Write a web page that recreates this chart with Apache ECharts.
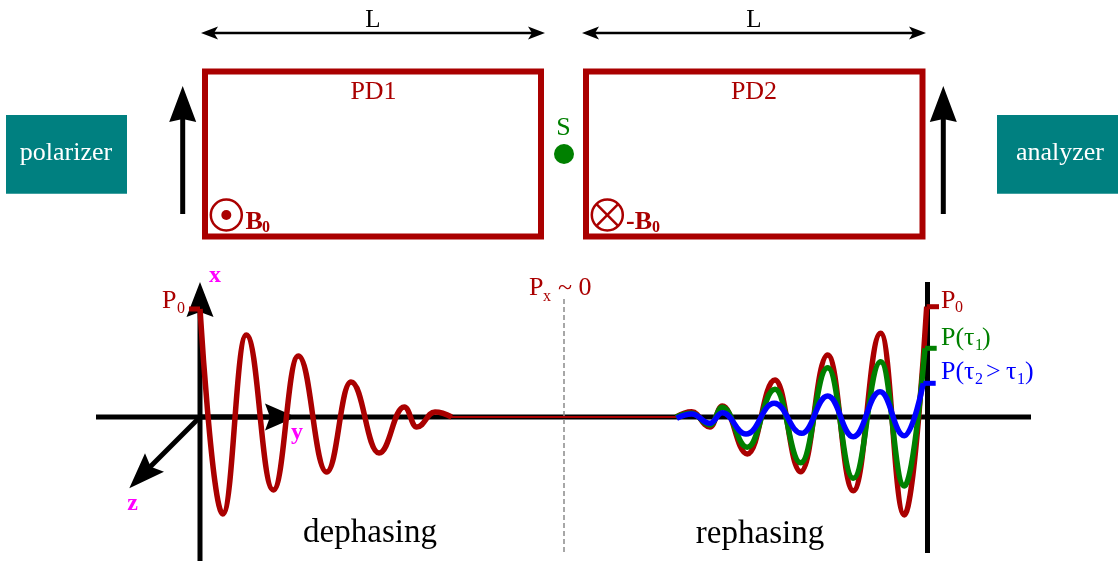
<!DOCTYPE html>
<html><head><meta charset="utf-8">
<style>html,body{margin:0;padding:0;background:#fff}#c{width:1119px;height:563px}</style>
<script src="https://cdn.jsdelivr.net/npm/echarts@6/dist/echarts.min.js"></script>
</head><body><div id="c"></div>
<script>
// Curve turning points: [x, y] in image units
const dephasingRed = [[200,309],[222.7,514],[246.3,335],[273.3,490],[298.3,356],[326.7,472],[351,382],[379,453],[404.3,407],[416.7,427],[435,412],[451.7,417]];
const flatRed = [[451,417],[680,417]];
const rephasingRed = [[676,417],[691.7,411.7],[710,427],[722.3,406],[747.3,454],[775,380],[800.7,471.7],[827.7,355],[853.3,490.7],[880.7,333.3],[904.3,515],[926.7,306.7]];
const rephasingGreen = [[676,417],[691.7,413.3],[710,425],[722.3,407.3],[747.3,447.3],[775,389.3],[800.7,462.7],[827.7,367.7],[853.3,478.3],[880.7,361.7],[904.3,486],[925,348.3]];
const rephasingBlue = [[676.7,418.3],[691.7,414],[710,423.3],[722.3,412.7],[746,434],[774.3,403.3],[801.7,433.3],[827.7,396],[853.3,436.7],[880,391.7],[904.3,435.7],[923.3,383.3]];
const stubRedLeft = [[189,309],[200,309]];
const stubRedRight = [[926.7,306.7],[939,306.7]];
const stubGreen = [[925,348.3],[936.7,348.3]];
const stubBlue = [[923.3,383.3],[935.7,383.3]];

// Diagram parts
const pdBoxes = [[205,71.5,541,236.5],[586,71.5,922.5,236.5]];
const tealBoxes = [[6,115,127,193.7],[997,115,1118,193.7]];
const thickShafts = [[96,417,1031,417],[200,300,200,561],[927.5,282,927.5,553],[182.7,214,182.7,115],[943.3,214,943.3,115],[200,417,150,467],[200,417,272,417]];
const thinShafts = [[208,33,538,33],[590,33,918,33]];
const arrowHeads = [
  [[182.7,86],[196.2,122],[182.7,119],[169.2,122]],
  [[943.3,86],[956.8,122],[943.3,119],[929.8,122]],
  [[200,282],[213.5,317],[200,312],[186.5,317]],
  [[296,417],[265,403.5],[270,417],[265,430.5]],
  [[129.3,488.3],[145,453.3],[150.7,466.7],[164,471.7]],
  [[201,33],[218,26.5],[214,33],[218,39.5]],
  [[545,33],[528,26.5],[532,33],[528,39.5]],
  [[582,33],[599,26.5],[595,33],[599,39.5]],
  [[926,33],[909,26.5],[913,33],[909,39.5]]
];
const fieldRings = [[226.3,215],[607.3,215]];
const fieldDot = [[226.3,215]];
const sourceDot = [[564,154]];
const crossLines = [[596.5,204.2,618.1,225.8],[596.5,225.8,618.1,204.2]];
const dashedGuide = [[564,299,564,552]];

// Text: [string, x, y]
const blackLabels = [['L',373,20],['L',754,20]];
const pdLabels = [['PD1',373.5,92.5],['PD2',754,92.5]];
const tealLabels = [['polarizer',66,153],['analyzer',1060,153]];
const sourceLabel = [['S',563.5,128.5]];
const bigLabels = [['dephasing',370,533],['rephasing',760,534]];
const boldLabels = [['B',245.5,222],['-B',626,222]];
const boldSubs = [['0',262,228],['0',652,228]];
const redLabels = [['P',162,301],['P',529,288.5],['~ 0',558,288.5],['P',941,301]];
const redSubs = [['0',177,309],['x',543,296.5],['0',955,308]];
const greenLabels = [['P(τ',941,338],[')',982,338]];
const greenSubs = [['1',975,345.5]];
const blueLabels = [['P(τ',941,372],['>',986,372],['τ',1006,372],[')',1025,372]];
const blueSubs = [['2',975,379.5],['1',1017,379.5]];
const axisLetters = [['x',215,276],['y',297,433],['z',132.5,504]];

const RED='#aa0000', GREEN='#008000', BLUE='#0000ff', TEAL='#008080', MAGENTA='#ff00ff';
const SERIF='"Liberation Serif","Times New Roman",serif';

function segs(name,data,stroke,width,dash){
  return {type:'custom',name,coordinateSystem:'cartesian2d',clip:false,z:1,silent:true,encode:{x:0,y:1},data,
    renderItem(p,api){const a=api.coord([api.value(0),api.value(1)]),b=api.coord([api.value(2),api.value(3)]);
      return {type:'line',shape:{x1:a[0],y1:a[1],x2:b[0],y2:b[1]},style:{stroke,lineWidth:width,lineDash:dash||null,fill:null}};}};
}
function rects(name,data,style){
  return {type:'custom',name,coordinateSystem:'cartesian2d',clip:false,z:1,silent:true,encode:{x:0,y:1},data,
    renderItem(p,api){const a=api.coord([api.value(0),api.value(1)]),b=api.coord([api.value(2),api.value(3)]);
      return {type:'rect',shape:{x:a[0],y:a[1],width:b[0]-a[0],height:b[1]-a[1]},style};}};
}
function circles(name,data,r,style){
  return {type:'custom',name,coordinateSystem:'cartesian2d',clip:false,z:2,silent:true,encode:{x:0,y:1},data,
    renderItem(p,api){const a=api.coord([api.value(0),api.value(1)]);
      return {type:'circle',shape:{cx:a[0],cy:a[1],r},style};}};
}
function heads(name,polys){
  return {type:'custom',name,coordinateSystem:'cartesian2d',clip:false,z:1,silent:true,
    data:polys.map((q,i)=>[q[0][0],q[0][1],i]),encode:{x:0,y:1},
    renderItem(p,api){return {type:'polygon',shape:{points:polys[api.value(2)].map(v=>api.coord(v))},style:{fill:'#000'}};}};
}
function texts(name,items,size,fill,opt){
  opt=opt||{};
  return {type:'custom',name,coordinateSystem:'cartesian2d',clip:false,z:8,silent:true,
    data:items.map((t,i)=>[t[1],t[2],i]),encode:{x:0,y:1},
    renderItem(p,api){const a=api.coord([api.value(0),api.value(1)]);
      return {type:'text',style:{text:items[api.value(2)][0],x:a[0],y:a[1],fill,
        font:(opt.bold?'bold ':'')+size+'px '+SERIF,textAlign:opt.align||'left',textVerticalAlign:'middle',verticalAlign:'middle'}};}};
}
function curve(name,data,color,width,z,smooth){
  return {type:'line',name,data,z,clip:false,silent:true,showSymbol:false,symbol:'none',
    smooth:smooth?0.44:false,smoothMonotone:smooth?'x':undefined,
    lineStyle:{color,width,cap:'butt',join:'miter'},animation:false};
}

const chart=echarts.init(document.getElementById('c'),null,{renderer:'canvas'});
chart.setOption({
  animation:false,backgroundColor:'#fff',
  grid:{left:0,right:0,top:0,bottom:0},
  xAxis:{type:'value',min:0,max:1119,show:false},
  yAxis:{type:'value',min:0,max:563,inverse:true,show:false},
  tooltip:{show:false},legend:{show:false},
  series:[
    rects('teal',tealBoxes,{fill:TEAL}),
    rects('pd',pdBoxes,{fill:null,stroke:RED,lineWidth:6}),
    segs('thick',thickShafts,'#000',5),
    segs('thin',thinShafts,'#000',2.5),
    segs('guide',dashedGuide,'#8a8a8a',1.5,[5,3]),
    segs('cross',crossLines,RED,2.5),
    heads('heads',arrowHeads),
    circles('rings',fieldRings,15.5,{fill:null,stroke:RED,lineWidth:2.5}),
    circles('dot',fieldDot,5,{fill:RED}),
    circles('source',sourceDot,10,{fill:GREEN}),
    curve('flat',flatRed,RED,2,3,false),
    curve('dephasing',dephasingRed,RED,5.5,3,true),
    curve('stubL',stubRedLeft,RED,5,3,false),
    curve('rephasing red',rephasingRed,RED,5.5,3,true),
    curve('stubR',stubRedRight,RED,5,3,false),
    curve('rephasing green',rephasingGreen,GREEN,5.5,4,true),
    curve('stubG',stubGreen,GREEN,5,4,false),
    curve('rephasing blue',rephasingBlue,BLUE,5.5,5,true),
    curve('stubB',stubBlue,BLUE,5,5,false),
    texts('tBlack',blackLabels,25,'#000',{align:'center'}),
    texts('tPd',pdLabels,26,RED,{align:'center'}),
    texts('tTeal',tealLabels,26,'#fff',{align:'center'}),
    texts('tS',sourceLabel,26,GREEN,{align:'center'}),
    texts('tBig',bigLabels,33,'#000',{align:'center'}),
    texts('tBold',boldLabels,26,RED,{bold:true}),
    texts('tBoldSub',boldSubs,16,RED,{bold:true}),
    texts('tRed',redLabels,26,RED),
    texts('tRedSub',redSubs,16,RED),
    texts('tGreen',greenLabels,26,GREEN),
    texts('tGreenSub',greenSubs,16,GREEN),
    texts('tBlue',blueLabels,26,BLUE),
    texts('tBlueSub',blueSubs,16,BLUE),
    texts('tAxis',axisLetters,24,MAGENTA,{bold:true,align:'center'})
  ]
});
</script></body></html>
